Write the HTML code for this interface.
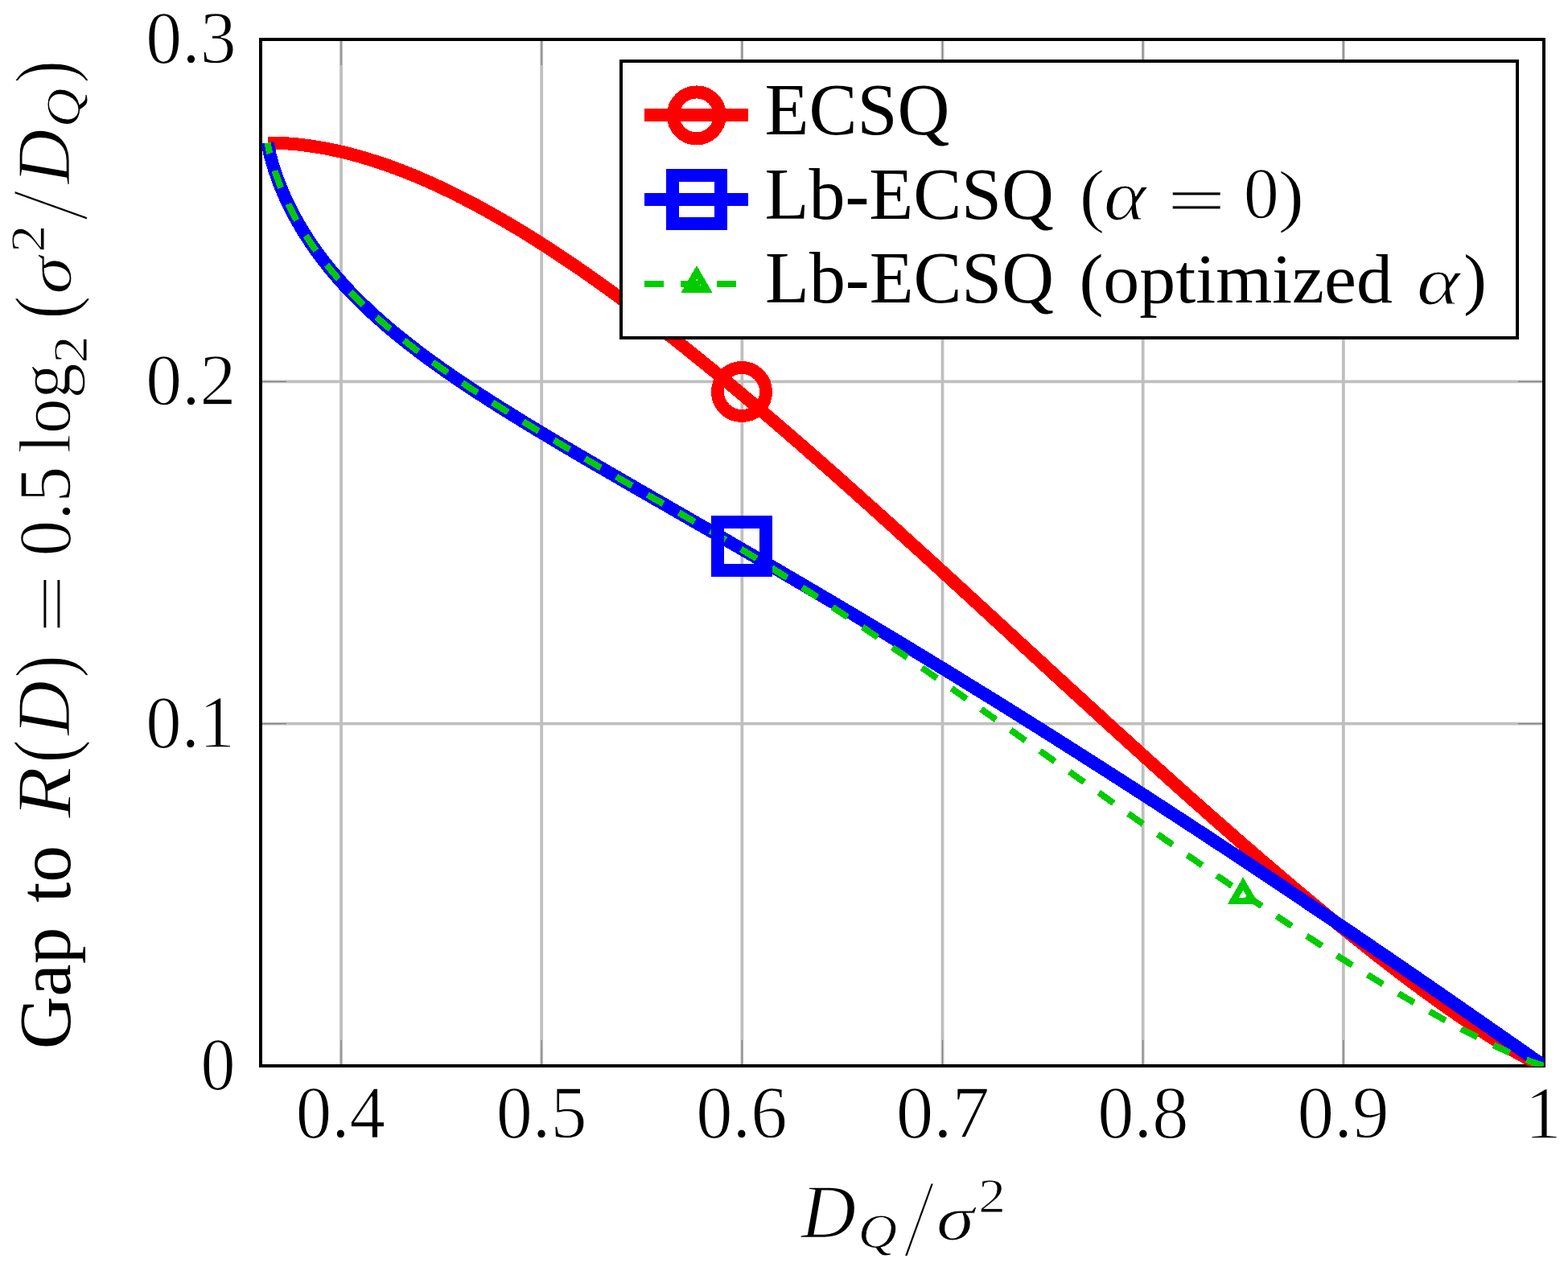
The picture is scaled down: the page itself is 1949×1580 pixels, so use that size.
<!DOCTYPE html>
<html><head><meta charset="utf-8"><style>
html,body{margin:0;padding:0;background:#fff;}
svg{display:block;}
text{font-family:'Liberation Serif', serif;fill:#000;}
.it{font-style:italic;}
.t1{stroke:#fff;stroke-width:1.4px;}
.t2{stroke:#fff;stroke-width:3px;}
</style></head><body>
<svg width="1949" height="1580" viewBox="0 0 1949 1580">
<rect x="0" y="0" width="1949" height="1580" fill="#fff"/>

<path d="M424.00 49V1325 M673.16 49V1325 M922.33 49V1325 M1171.50 49V1325 M1420.67 49V1325 M1669.83 49V1325 M324 899.67H1919 M324 474.33H1919" stroke="#bfbfbf" stroke-width="3.8" fill="none"/>
<path d="M424.00 1325v-32M424.00 49v32 M673.16 1325v-32M673.16 49v32 M922.33 1325v-32M922.33 49v32 M1171.50 1325v-32M1171.50 49v32 M1420.67 1325v-32M1420.67 49v32 M1669.83 1325v-32M1669.83 49v32 M324 899.67h32M1919 899.67h-32 M324 474.33h32M1919 474.33h-32" stroke="#808080" stroke-width="1.2" fill="none"/>
<rect x="324" y="49" width="1595" height="1276" fill="none" stroke="#000" stroke-width="4"/>
<defs><clipPath id="ax"><rect x="324" y="49" width="1595" height="1276.8"/></clipPath></defs><g clip-path="url(#ax)" shape-rendering="crispEdges">
<path d="M332.8 177.6 L333.8 177.6 L335.3 177.6 L336.8 177.6 L338.5 177.6 L340.6 177.6 L341.7 177.7 L343.0 177.7 L344.3 177.7 L345.7 177.8 L347.1 177.9 L348.7 177.9 L350.3 178.0 L352.0 178.1 L353.8 178.2 L355.7 178.3 L357.6 178.4 L359.6 178.6 L361.7 178.7 L363.9 178.9 L366.1 179.1 L368.4 179.3 L370.8 179.6 L373.3 179.8 L375.8 180.1 L378.5 180.5 L381.1 180.8 L383.9 181.2 L386.7 181.6 L389.7 182.0 L392.6 182.5 L395.7 183.0 L398.8 183.5 L402.0 184.1 L405.3 184.7 L408.6 185.3 L412.1 186.0 L415.5 186.8 L419.1 187.5 L422.7 188.3 L426.4 189.2 L430.2 190.1 L434.0 191.1 L437.9 192.1 L441.8 193.2 L445.9 194.3 L449.9 195.4 L454.1 196.7 L458.3 197.9 L462.6 199.3 L467.0 200.7 L471.4 202.1 L475.8 203.6 L480.4 205.2 L485.0 206.8 L489.6 208.5 L494.3 210.3 L499.1 212.1 L503.9 214.0 L508.8 215.9 L513.8 217.9 L518.8 220.0 L523.8 222.2 L529.0 224.4 L534.1 226.7 L539.4 229.0 L544.6 231.5 L550.0 234.0 L555.4 236.5 L560.8 239.2 L566.3 241.9 L571.8 244.7 L577.4 247.5 L583.0 250.4 L588.7 253.4 L594.5 256.5 L600.2 259.6 L606.1 262.9 L611.9 266.1 L617.8 269.5 L623.8 272.9 L629.8 276.4 L635.8 280.0 L641.9 283.6 L648.1 287.3 L654.2 291.1 L660.4 295.0 L666.7 298.9 L673.0 302.9 L679.3 306.9 L685.6 311.1 L692.0 315.3 L698.4 319.5 L704.9 323.9 L711.4 328.3 L717.9 332.7 L724.5 337.2 L731.1 341.8 L737.7 346.5 L744.3 351.2 L751.0 356.0 L757.7 360.8 L764.4 365.7 L771.2 370.6 L778.0 375.7 L784.8 380.7 L791.6 385.8 L798.5 391.0 L805.3 396.2 L812.2 401.5 L819.1 406.9 L826.1 412.3 L834.4 418.8 L842.8 425.4 L851.2 432.0 L859.6 438.8 L868.1 445.6 L876.5 452.4 L885.0 459.3 L893.5 466.3 L902.0 473.3 L910.5 480.4 L919.1 487.5 L927.6 494.7 L936.2 501.9 L944.8 509.2 L953.3 516.5 L961.9 523.8 L970.5 531.2 L979.1 538.6 L987.7 546.1 L996.3 553.5 L1004.9 561.1 L1013.5 568.6 L1022.1 576.1 L1030.7 583.7 L1039.3 591.3 L1047.8 598.9 L1056.4 606.6 L1065.0 614.2 L1073.5 621.9 L1082.1 629.5 L1090.6 637.2 L1099.1 644.9 L1107.6 652.5 L1116.1 660.2 L1124.5 667.9 L1133.0 675.6 L1141.4 683.2 L1149.8 690.9 L1158.2 698.5 L1166.5 706.1 L1174.9 713.8 L1183.2 721.4 L1191.5 729.0 L1199.7 736.5 L1207.9 744.1 L1216.1 751.6 L1224.3 759.1 L1232.4 766.6 L1240.5 774.0 L1248.6 781.4 L1256.6 788.8 L1264.6 796.2 L1272.5 803.5 L1280.5 810.8 L1288.3 818.0 L1296.2 825.2 L1304.0 832.4 L1311.7 839.5 L1319.5 846.6 L1327.1 853.7 L1334.8 860.7 L1342.4 867.6 L1349.9 874.5 L1357.4 881.4 L1364.9 888.2 L1372.3 895.0 L1379.6 901.7 L1386.9 908.3 L1394.2 914.9 L1401.4 921.5 L1408.6 928.0 L1415.7 934.4 L1422.7 940.8 L1429.7 947.1 L1436.7 953.4 L1443.6 959.6 L1450.4 965.7 L1457.2 971.8 L1464.0 977.9 L1470.6 983.8 L1477.3 989.8 L1483.8 995.6 L1490.4 1001.4 L1496.8 1007.1 L1503.2 1012.8 L1509.6 1018.4 L1515.9 1023.9 L1522.1 1029.4 L1528.3 1034.8 L1534.4 1040.2 L1540.4 1045.4 L1546.4 1050.7 L1552.4 1055.8 L1558.3 1060.9 L1564.1 1065.9 L1569.8 1070.9 L1575.6 1075.8 L1581.2 1080.6 L1586.8 1085.4 L1592.3 1090.1 L1597.8 1094.7 L1603.2 1099.3 L1608.5 1103.8 L1613.8 1108.2 L1619.0 1112.6 L1624.2 1116.9 L1629.3 1121.2 L1634.4 1125.4 L1639.3 1129.5 L1644.3 1133.6 L1649.1 1137.6 L1653.9 1141.5 L1658.7 1145.4 L1663.4 1149.2 L1668.0 1153.0 L1672.6 1156.7 L1677.1 1160.3 L1681.6 1163.9 L1686.0 1167.4 L1690.3 1170.9 L1694.6 1174.3 L1698.8 1177.7 L1703.0 1180.9 L1707.1 1184.2 L1711.1 1187.4 L1715.1 1190.5 L1719.1 1193.5 L1722.9 1196.5 L1726.8 1199.5 L1730.5 1202.4 L1734.3 1205.3 L1737.9 1208.1 L1741.5 1210.8 L1745.1 1213.5 L1748.6 1216.1 L1752.0 1218.7 L1755.4 1221.3 L1758.8 1223.8 L1762.1 1226.2 L1765.3 1228.6 L1768.5 1231.0 L1771.6 1233.3 L1774.7 1235.5 L1777.8 1237.7 L1780.7 1239.9 L1783.7 1242.0 L1786.6 1244.1 L1789.4 1246.1 L1792.2 1248.1 L1794.9 1250.1 L1797.6 1252.0 L1800.3 1253.8 L1802.9 1255.7 L1805.5 1257.5 L1808.0 1259.2 L1810.5 1260.9 L1812.9 1262.6 L1815.3 1264.2 L1817.6 1265.8 L1819.9 1267.4 L1822.2 1268.9 L1824.4 1270.4 L1826.6 1271.9 L1828.7 1273.3 L1830.8 1274.7 L1832.8 1276.1 L1834.9 1277.4 L1836.8 1278.7 L1838.8 1280.0 L1840.7 1281.2 L1842.5 1282.5 L1844.4 1283.6 L1846.2 1284.8 L1847.9 1285.9 L1849.6 1287.0 L1851.3 1288.1 L1853.0 1289.1 L1854.6 1290.1 L1856.2 1291.1 L1857.7 1292.1 L1859.3 1293.1 L1860.8 1294.0 L1862.2 1294.9 L1863.6 1295.8 L1865.0 1296.6 L1866.4 1297.4 L1867.7 1298.2 L1869.1 1299.0 L1870.3 1299.8 L1871.6 1300.6 L1872.8 1301.3 L1874.0 1302.0 L1875.2 1302.7 L1876.3 1303.4 L1877.5 1304.0 L1878.6 1304.6 L1879.6 1305.3 L1880.7 1305.9 L1881.7 1306.4 L1882.7 1307.0 L1886.7 1309.3 L1890.3 1311.3 L1893.5 1313.0 L1896.5 1314.6 L1899.1 1315.9 L1901.4 1317.2 L1903.5 1318.2 L1905.4 1319.1 L1907.1 1319.9 L1908.6 1320.6 L1909.9 1321.3 L1911.1 1321.8 L1912.1 1322.3 L1913.8 1323.0 L1915.1 1323.6 L1916.1 1324.0 L1917.2 1324.4 L1918.2 1324.7 L1919.0 1325.0" stroke="#ff0000" stroke-width="16" fill="none" stroke-linejoin="round"/>
<path d="M332.8 177.6 L333.0 179.1 L333.2 180.7 L333.6 182.6 L333.8 183.8 L334.0 185.0 L334.3 186.2 L334.6 187.6 L334.9 189.0 L335.2 190.5 L335.6 192.0 L336.0 193.6 L336.4 195.2 L336.9 196.9 L337.3 198.6 L337.8 200.4 L338.4 202.2 L338.9 204.1 L339.5 206.0 L340.1 207.9 L340.7 209.9 L341.4 211.9 L342.0 213.9 L342.7 215.9 L343.5 218.0 L344.2 220.1 L345.0 222.3 L345.8 224.4 L346.6 226.6 L347.4 228.8 L348.3 231.0 L349.2 233.2 L350.1 235.5 L351.1 237.7 L352.1 240.0 L353.1 242.3 L354.1 244.6 L355.1 246.9 L356.2 249.3 L357.3 251.6 L358.4 254.0 L359.6 256.3 L360.8 258.7 L362.0 261.0 L363.2 263.4 L364.4 265.8 L365.7 268.2 L367.0 270.6 L368.3 273.0 L369.7 275.4 L371.1 277.8 L372.5 280.2 L373.9 282.6 L375.3 285.0 L376.8 287.5 L378.3 289.9 L379.8 292.3 L381.4 294.7 L382.9 297.1 L384.5 299.5 L386.1 302.0 L387.8 304.4 L389.4 306.8 L391.1 309.2 L392.8 311.6 L394.6 314.0 L396.3 316.4 L398.1 318.8 L399.9 321.2 L401.8 323.6 L403.6 326.0 L405.5 328.4 L407.4 330.8 L409.3 333.2 L411.3 335.6 L413.2 338.0 L415.2 340.3 L417.3 342.7 L419.3 345.1 L421.4 347.5 L423.5 349.8 L425.6 352.2 L427.7 354.5 L429.9 356.9 L432.1 359.2 L434.3 361.6 L436.5 363.9 L438.8 366.2 L441.0 368.6 L443.3 370.9 L445.7 373.2 L448.0 375.5 L450.4 377.8 L452.8 380.1 L455.2 382.4 L457.6 384.7 L460.1 387.0 L462.5 389.3 L465.0 391.6 L467.6 393.9 L470.1 396.2 L472.7 398.4 L475.3 400.7 L477.9 403.0 L480.5 405.3 L483.2 407.5 L485.9 409.8 L488.5 412.0 L491.3 414.3 L494.0 416.5 L496.8 418.8 L499.6 421.0 L502.4 423.3 L505.2 425.5 L508.0 427.7 L510.9 430.0 L513.8 432.2 L516.7 434.4 L519.7 436.7 L522.6 438.9 L525.6 441.1 L528.6 443.4 L531.6 445.6 L534.6 447.8 L537.7 450.0 L540.8 452.2 L543.9 454.5 L547.0 456.7 L550.1 458.9 L553.3 461.1 L556.5 463.3 L559.7 465.6 L562.9 467.8 L566.1 470.0 L569.4 472.2 L572.6 474.4 L575.9 476.6 L579.3 478.9 L582.6 481.1 L585.9 483.3 L589.3 485.5 L592.7 487.7 L596.1 490.0 L599.6 492.2 L603.0 494.4 L606.5 496.7 L610.0 498.9 L613.5 501.1 L617.0 503.4 L620.5 505.6 L624.1 507.8 L627.7 510.1 L631.3 512.3 L634.9 514.6 L638.5 516.8 L642.2 519.1 L645.8 521.3 L649.5 523.6 L653.2 525.9 L656.9 528.1 L660.7 530.4 L664.4 532.7 L668.2 535.0 L672.0 537.2 L675.8 539.5 L679.6 541.8 L683.4 544.1 L687.3 546.4 L691.2 548.7 L695.0 551.0 L698.9 553.4 L702.9 555.7 L706.8 558.0 L710.8 560.3 L714.7 562.7 L718.7 565.0 L722.7 567.3 L726.7 569.7 L730.7 572.1 L734.8 574.4 L738.8 576.8 L742.9 579.2 L747.0 581.5 L751.1 583.9 L755.2 586.3 L759.4 588.7 L763.5 591.1 L767.7 593.5 L771.8 595.9 L776.0 598.4 L780.2 600.8 L784.5 603.2 L788.7 605.7 L792.9 608.1 L797.2 610.6 L801.5 613.0 L805.7 615.5 L810.0 618.0 L814.3 620.5 L818.7 622.9 L823.0 625.4 L827.4 627.9 L831.7 630.5 L836.1 633.0 L840.5 635.5 L844.9 638.0 L849.3 640.6 L853.7 643.1 L858.1 645.7 L862.6 648.2 L867.0 650.8 L871.5 653.4 L876.0 655.9 L880.5 658.5 L885.0 661.1 L889.5 663.7 L894.0 666.3 L898.5 669.0 L903.1 671.6 L907.6 674.2 L912.2 676.9 L916.8 679.5 L921.3 682.2 L925.9 684.8 L930.5 687.5 L935.2 690.2 L939.8 692.9 L944.4 695.5 L949.0 698.2 L953.7 700.9 L958.3 703.7 L963.0 706.4 L967.7 709.1 L972.4 711.8 L977.0 714.6 L981.7 717.3 L986.5 720.1 L991.2 722.9 L995.9 725.6 L1000.6 728.4 L1005.3 731.2 L1010.1 734.0 L1014.8 736.8 L1019.6 739.6 L1024.4 742.4 L1029.1 745.2 L1033.9 748.0 L1038.7 750.9 L1043.5 753.7 L1048.3 756.5 L1053.1 759.4 L1057.9 762.2 L1062.7 765.1 L1067.5 768.0 L1072.3 770.9 L1077.1 773.7 L1082.0 776.6 L1086.8 779.5 L1091.6 782.4 L1096.5 785.3 L1101.3 788.2 L1106.2 791.2 L1111.0 794.1 L1115.9 797.0 L1120.7 799.9 L1125.6 802.9 L1130.5 805.8 L1135.3 808.8 L1140.2 811.7 L1145.1 814.7 L1150.0 817.6 L1154.8 820.6 L1159.7 823.6 L1164.6 826.6 L1169.5 829.6 L1174.4 832.5 L1179.3 835.5 L1184.2 838.5 L1189.1 841.5 L1193.9 844.5 L1198.8 847.5 L1203.7 850.6 L1208.6 853.6 L1213.5 856.6 L1218.4 859.6 L1223.3 862.6 L1228.2 865.7 L1233.1 868.7 L1238.0 871.7 L1242.9 874.8 L1247.8 877.8 L1252.7 880.9 L1257.5 883.9 L1262.4 887.0 L1267.3 890.0 L1272.2 893.1 L1277.1 896.1 L1282.0 899.2 L1286.8 902.3 L1291.7 905.3 L1296.6 908.4 L1301.4 911.4 L1306.3 914.5 L1311.2 917.6 L1316.0 920.7 L1320.9 923.7 L1325.7 926.8 L1330.6 929.9 L1335.4 932.9 L1340.2 936.0 L1345.1 939.1 L1349.9 942.2 L1354.7 945.2 L1359.5 948.3 L1364.3 951.4 L1369.2 954.5 L1374.0 957.5 L1378.7 960.6 L1383.5 963.7 L1388.3 966.7 L1393.1 969.8 L1397.8 972.9 L1402.6 975.9 L1407.4 979.0 L1412.1 982.1 L1416.8 985.1 L1421.6 988.2 L1426.3 991.2 L1431.0 994.3 L1435.7 997.3 L1440.4 1000.4 L1445.1 1003.4 L1449.7 1006.5 L1454.4 1009.5 L1459.1 1012.6 L1463.7 1015.6 L1468.3 1018.6 L1473.0 1021.6 L1477.6 1024.7 L1482.2 1027.7 L1486.8 1030.7 L1491.4 1033.7 L1495.9 1036.7 L1500.5 1039.7 L1505.1 1042.7 L1509.6 1045.7 L1514.1 1048.7 L1518.6 1051.6 L1523.1 1054.6 L1527.6 1057.6 L1532.1 1060.5 L1536.6 1063.5 L1541.0 1066.4 L1545.4 1069.4 L1549.9 1072.3 L1554.3 1075.2 L1558.7 1078.2 L1563.0 1081.1 L1567.4 1084.0 L1571.7 1086.9 L1576.1 1089.8 L1580.4 1092.6 L1584.7 1095.5 L1589.0 1098.4 L1593.2 1101.2 L1597.5 1104.1 L1601.7 1106.9 L1606.0 1109.8 L1610.2 1112.6 L1614.3 1115.4 L1618.5 1118.2 L1622.7 1121.0 L1626.8 1123.8 L1630.9 1126.5 L1635.0 1129.3 L1639.1 1132.0 L1643.1 1134.8 L1647.2 1137.5 L1651.2 1140.2 L1655.2 1142.9 L1659.2 1145.6 L1663.1 1148.3 L1667.1 1151.0 L1671.0 1153.6 L1674.9 1156.3 L1678.8 1158.9 L1682.6 1161.5 L1686.5 1164.1 L1690.3 1166.7 L1694.1 1169.3 L1697.8 1171.9 L1701.6 1174.4 L1705.3 1177.0 L1709.0 1179.5 L1712.7 1182.0 L1716.3 1184.5 L1720.0 1187.0 L1723.6 1189.4 L1727.2 1191.9 L1730.7 1194.3 L1734.3 1196.7 L1737.8 1199.2 L1741.3 1201.5 L1744.7 1203.9 L1748.1 1206.3 L1751.6 1208.6 L1754.9 1210.9 L1758.3 1213.2 L1761.6 1215.5 L1764.9 1217.8 L1768.2 1220.1 L1771.4 1222.3 L1774.7 1224.5 L1777.9 1226.7 L1781.0 1228.9 L1784.1 1231.1 L1787.3 1233.2 L1790.3 1235.3 L1793.4 1237.4 L1796.4 1239.5 L1799.4 1241.6 L1802.3 1243.6 L1805.3 1245.7 L1808.2 1247.7 L1811.0 1249.7 L1813.9 1251.6 L1816.7 1253.6 L1819.5 1255.5 L1822.2 1257.4 L1824.9 1259.3 L1827.6 1261.1 L1830.2 1263.0 L1832.8 1264.8 L1835.4 1266.6 L1838.0 1268.3 L1840.5 1270.1 L1843.0 1271.8 L1845.4 1273.5 L1847.8 1275.2 L1850.2 1276.8 L1852.5 1278.5 L1854.8 1280.1 L1857.1 1281.7 L1859.3 1283.2 L1861.5 1284.7 L1863.7 1286.3 L1865.8 1287.7 L1867.9 1289.2 L1869.9 1290.6 L1871.9 1292.0 L1873.9 1293.4 L1875.9 1294.8 L1877.8 1296.1 L1879.6 1297.4 L1881.4 1298.7 L1883.2 1299.9 L1885.0 1301.1 L1886.7 1302.3 L1888.3 1303.5 L1889.9 1304.6 L1891.5 1305.7 L1893.1 1306.8 L1894.6 1307.8 L1896.0 1308.9 L1897.4 1309.9 L1898.8 1310.8 L1900.1 1311.8 L1901.4 1312.7 L1902.7 1313.5 L1903.9 1314.4 L1905.0 1315.2 L1906.1 1316.0 L1907.2 1316.7 L1908.2 1317.4 L1909.2 1318.1 L1910.1 1318.8 L1911.0 1319.4 L1911.9 1320.0 L1913.4 1321.1 L1914.8 1322.1 L1916.0 1322.9 L1917.0 1323.6 L1918.1 1324.4 L1919.0 1325.0 L1919.0 1325.0" stroke="#0000ff" stroke-width="16" fill="none" stroke-linejoin="round"/>
<path d="M332.8 177.6 L333.0 179.1 L333.2 180.7 L333.6 182.6 L333.8 183.8 L334.0 185.0 L334.3 186.2 L334.6 187.6 L334.9 189.0 L335.2 190.5 L335.6 192.0 L336.0 193.6 L336.4 195.2 L336.9 196.9 L337.3 198.6 L337.8 200.4 L338.4 202.2 L338.9 204.1 L339.5 206.0 L340.1 207.9 L340.7 209.9 L341.4 211.9 L342.0 213.9 L342.7 215.9 L343.5 218.0 L344.2 220.1 L345.0 222.3 L345.8 224.4 L346.6 226.6 L347.4 228.8 L348.3 231.0 L349.2 233.2 L350.1 235.5 L351.1 237.7 L352.1 240.0 L353.1 242.3 L354.1 244.6 L355.1 246.9 L356.2 249.3 L357.3 251.6 L358.4 254.0 L359.6 256.3 L360.8 258.7 L362.0 261.0 L363.2 263.4 L364.4 265.8 L365.7 268.2 L367.0 270.6 L368.3 273.0 L369.7 275.4 L371.1 277.8 L372.5 280.2 L373.9 282.6 L375.3 285.0 L376.8 287.5 L378.3 289.9 L379.8 292.3 L381.4 294.7 L382.9 297.1 L384.5 299.5 L386.1 302.0 L387.8 304.4 L389.4 306.8 L391.1 309.2 L392.8 311.6 L394.6 314.0 L396.3 316.4 L398.1 318.8 L399.9 321.2 L401.8 323.6 L403.6 326.0 L405.5 328.4 L407.4 330.8 L409.3 333.2 L411.3 335.6 L413.2 338.0 L415.2 340.3 L417.3 342.7 L419.3 345.1 L421.4 347.5 L423.5 349.8 L425.6 352.2 L427.7 354.5 L429.9 356.9 L432.1 359.2 L434.3 361.6 L436.5 363.9 L438.8 366.2 L441.0 368.6 L443.3 370.9 L445.7 373.2 L448.0 375.5 L450.4 377.8 L452.8 380.1 L455.2 382.4 L457.6 384.7 L460.1 387.0 L462.5 389.3 L465.0 391.6 L467.6 393.9 L470.1 396.2 L472.7 398.4 L475.3 400.7 L477.9 403.0 L480.5 405.3 L483.2 407.5 L485.9 409.8 L488.5 412.0 L491.3 414.3 L494.0 416.5 L496.8 418.8 L499.6 421.0 L502.4 423.3 L505.2 425.5 L508.0 427.7 L510.9 430.0 L513.8 432.2 L516.7 434.4 L519.7 436.7 L522.6 438.9 L525.6 441.1 L528.6 443.4 L531.6 445.6 L534.6 447.8 L537.7 450.0 L540.8 452.2 L543.9 454.5 L547.0 456.7 L550.1 458.9 L553.3 461.1 L556.5 463.3 L559.7 465.6 L562.9 467.8 L566.1 470.0 L569.4 472.2 L572.6 474.4 L575.9 476.6 L579.3 478.9 L582.6 481.1 L585.9 483.3 L589.3 485.5 L592.7 487.7 L596.1 490.0 L599.6 492.2 L603.0 494.4 L606.5 496.7 L610.0 498.9 L613.5 501.1 L617.0 503.4 L620.5 505.6 L624.1 507.8 L627.7 510.1 L631.3 512.3 L634.9 514.6 L638.5 516.8 L642.2 519.1 L645.8 521.3 L649.5 523.6 L653.2 525.9 L656.9 528.1 L660.7 530.4 L664.4 532.7 L668.2 535.0 L672.0 537.2 L675.8 539.5 L679.6 541.8 L683.4 544.1 L687.3 546.4 L691.2 548.7 L695.0 551.0 L698.9 553.4 L702.9 555.7 L706.8 558.0 L710.8 560.3 L714.7 562.7 L718.7 565.0 L722.7 567.3 L726.7 569.7 L730.7 572.1 L734.8 574.4 L738.8 576.8 L742.9 579.2 L747.0 581.5 L751.1 583.9 L755.2 586.3 L759.4 588.7 L763.5 591.1 L767.7 593.5 L771.8 595.9 L776.0 598.4 L780.2 600.8 L784.5 603.2 L788.7 605.7 L792.9 608.1 L797.2 610.6 L801.5 613.0 L805.7 615.5 L810.0 618.0 L814.3 620.5 L818.7 622.9 L823.0 625.4 L827.4 627.9 L831.7 630.5 L836.1 633.0 L840.5 635.5 L844.9 638.0 L849.3 640.6 L853.7 643.1 L858.1 645.7 L862.6 648.2 L867.0 650.8 L871.5 653.4 L872.5 653.9 L876.0 656.0 L879.5 658.0 L883.0 660.0 L886.5 662.0 L890.0 664.1 L893.5 666.2 L897.0 668.2 L900.5 670.3 L904.0 672.4 L907.5 674.4 L911.0 676.5 L914.5 678.6 L918.0 680.7 L921.5 682.9 L925.0 685.0 L928.5 687.1 L932.0 689.2 L935.5 691.4 L939.0 693.5 L942.5 695.7 L946.0 697.9 L949.5 700.0 L953.0 702.2 L956.5 704.4 L960.0 706.6 L963.5 708.8 L967.0 711.0 L970.5 713.2 L974.0 715.4 L977.5 717.6 L981.0 719.8 L984.5 722.1 L988.0 724.3 L991.5 726.5 L995.0 728.8 L998.5 731.0 L1002.0 733.3 L1005.5 735.6 L1009.0 737.8 L1012.5 740.1 L1016.0 742.4 L1019.5 744.7 L1023.0 747.0 L1026.5 749.2 L1030.0 751.5 L1033.5 753.8 L1037.0 756.2 L1040.5 758.5 L1044.0 760.8 L1047.5 763.1 L1051.0 765.4 L1054.5 767.8 L1058.0 770.1 L1061.5 772.4 L1065.0 774.8 L1068.5 777.1 L1072.0 779.5 L1075.5 781.8 L1078.9 784.2 L1082.4 786.6 L1085.9 788.9 L1089.4 791.3 L1092.9 793.7 L1096.4 796.1 L1099.9 798.4 L1103.4 800.8 L1106.9 803.2 L1110.4 805.6 L1113.9 808.0 L1117.4 810.4 L1120.9 812.8 L1124.4 815.2 L1127.9 817.6 L1131.4 820.0 L1134.9 822.4 L1138.4 824.8 L1141.9 827.3 L1145.4 829.7 L1148.9 832.1 L1152.4 834.5 L1155.9 837.0 L1159.4 839.4 L1162.9 841.8 L1166.4 844.3 L1169.9 846.7 L1173.4 849.2 L1176.9 851.6 L1180.4 854.1 L1183.9 856.5 L1187.4 859.0 L1190.9 861.4 L1194.4 863.9 L1197.9 866.3 L1201.4 868.8 L1204.9 871.2 L1208.4 873.7 L1211.9 876.2 L1215.4 878.6 L1218.9 881.1 L1222.4 883.6 L1225.9 886.0 L1229.4 888.5 L1232.9 891.0 L1236.4 893.5 L1239.9 895.9 L1243.4 898.4 L1246.9 900.9 L1250.4 903.4 L1253.9 905.8 L1257.4 908.3 L1260.9 910.8 L1264.4 913.3 L1267.9 915.8 L1271.4 918.3 L1274.9 920.7 L1278.4 923.2 L1281.9 925.7 L1285.4 928.2 L1288.9 930.7 L1292.4 933.2 L1295.9 935.7 L1299.4 938.1 L1302.9 940.6 L1306.4 943.1 L1309.9 945.6 L1313.4 948.1 L1316.9 950.6 L1320.4 953.1 L1323.9 955.6 L1327.4 958.1 L1330.9 960.5 L1334.4 963.0 L1337.9 965.5 L1341.4 968.0 L1344.9 970.5 L1348.4 973.0 L1351.9 975.5 L1355.4 978.0 L1358.9 980.4 L1362.4 982.9 L1365.9 985.4 L1369.4 987.9 L1372.9 990.4 L1376.4 992.9 L1379.9 995.4 L1383.4 997.8 L1386.9 1000.3 L1390.4 1002.8 L1393.9 1005.3 L1397.4 1007.7 L1400.9 1010.2 L1404.4 1012.7 L1407.9 1015.2 L1411.4 1017.6 L1414.9 1020.1 L1418.4 1022.6 L1421.9 1025.1 L1425.4 1027.5 L1428.9 1030.0 L1432.4 1032.5 L1435.9 1034.9 L1439.4 1037.4 L1442.9 1039.8 L1446.4 1042.3 L1449.9 1044.7 L1453.4 1047.2 L1456.9 1049.6 L1460.4 1052.1 L1463.9 1054.5 L1467.4 1057.0 L1470.9 1059.4 L1474.4 1061.9 L1477.9 1064.3 L1481.4 1066.7 L1484.9 1069.2 L1488.4 1071.6 L1491.9 1074.0 L1495.4 1076.5 L1498.9 1078.9 L1502.3 1081.3 L1505.8 1083.7 L1509.3 1086.1 L1512.8 1088.6 L1516.3 1091.0 L1519.8 1093.4 L1523.3 1095.8 L1526.8 1098.2 L1530.3 1100.6 L1533.8 1103.0 L1537.3 1105.4 L1540.8 1107.7 L1544.3 1110.1 L1547.8 1112.5 L1551.3 1114.9 L1554.8 1117.3 L1558.3 1119.6 L1561.8 1122.0 L1565.3 1124.4 L1568.8 1126.7 L1572.3 1129.1 L1575.8 1131.4 L1579.3 1133.8 L1582.8 1136.1 L1586.3 1138.4 L1589.8 1140.8 L1593.3 1143.1 L1596.8 1145.4 L1600.3 1147.8 L1603.8 1150.1 L1607.3 1152.4 L1610.8 1154.7 L1614.3 1157.0 L1617.8 1159.3 L1621.3 1161.6 L1624.8 1163.9 L1628.3 1166.2 L1631.8 1168.4 L1635.3 1170.7 L1638.8 1173.0 L1642.3 1175.3 L1645.8 1177.5 L1649.3 1179.8 L1652.8 1182.0 L1656.3 1184.3 L1659.8 1186.5 L1663.3 1188.7 L1666.8 1191.0 L1670.3 1193.2 L1673.8 1195.4 L1677.3 1197.6 L1680.8 1199.8 L1684.3 1202.0 L1687.8 1204.2 L1691.3 1206.4 L1694.8 1208.5 L1698.3 1210.7 L1701.8 1212.9 L1705.3 1215.0 L1708.8 1217.2 L1712.3 1219.3 L1715.8 1221.4 L1719.3 1223.6 L1722.8 1225.7 L1726.3 1227.8 L1729.8 1229.9 L1733.3 1232.0 L1736.8 1234.1 L1740.3 1236.2 L1743.8 1238.2 L1747.3 1240.3 L1750.8 1242.4 L1754.3 1244.4 L1757.8 1246.4 L1761.3 1248.5 L1764.8 1250.5 L1768.3 1252.5 L1771.8 1254.5 L1775.3 1256.5 L1778.8 1258.5 L1782.3 1260.4 L1785.8 1262.4 L1789.3 1264.3 L1792.8 1266.3 L1796.3 1268.2 L1799.8 1270.1 L1803.3 1272.0 L1806.8 1273.9 L1810.3 1275.8 L1813.8 1277.7 L1817.3 1279.5 L1820.8 1281.4 L1824.3 1283.2 L1827.8 1285.0 L1831.3 1286.8 L1834.8 1288.6 L1838.3 1290.4 L1841.8 1292.2 L1845.3 1293.9 L1848.8 1295.6 L1852.3 1297.4 L1855.8 1299.0 L1859.3 1300.7 L1862.8 1302.4 L1866.3 1304.0 L1869.8 1305.6 L1873.3 1307.2 L1876.8 1308.8 L1880.3 1310.4 L1883.8 1311.9 L1887.3 1313.4 L1890.8 1314.8 L1894.3 1316.3 L1897.8 1317.7 L1901.3 1319.1 L1904.8 1320.4 L1908.3 1321.6 L1911.8 1322.8 L1915.3 1324.0 L1918.8 1324.9 L1919.0 1325.0" stroke="#00cc00" stroke-width="8" fill="none" stroke-dasharray="22.6 22.24" stroke-dashoffset="9.14"/>
</g>
<g shape-rendering="crispEdges">
<circle cx="922" cy="487" r="30" fill="none" stroke="#ff0000" stroke-width="16"/>
<rect x="892" y="649" width="60" height="60" fill="none" stroke="#0000ff" stroke-width="16"/>
<path d="M1545.20 1098.50L1532.90 1119.80L1557.50 1119.80Z" fill="none" stroke="#00cc00" stroke-width="8.2"/>
</g>
<rect x="772" y="76" width="1114" height="344" fill="#fff" stroke="#000" stroke-width="4"/>
<g shape-rendering="crispEdges">
<path d="M801 143H930" stroke="#ff0000" stroke-width="16"/>
<circle cx="865.8" cy="143.4" r="29" fill="none" stroke="#ff0000" stroke-width="16"/>
<path d="M801 248H930" stroke="#0000ff" stroke-width="16"/>
<rect x="836" y="218" width="60" height="60" fill="none" stroke="#0000ff" stroke-width="16"/>
<path d="M801 352.5H930" stroke="#00cc00" stroke-width="8" stroke-dasharray="23.5 21.5"/>
<path d="M866.00 338.20L853.70 359.50L878.30 359.50Z" fill="none" stroke="#00cc00" stroke-width="8.2"/>
</g>
<text class="t1" font-size="100" transform="translate(367.64 1413.78) scale(0.8899 0.9242)">0.4</text>
<text class="t1" font-size="100" transform="translate(616.79 1413.78) scale(0.9017 0.9242)">0.5</text>
<text class="t1" font-size="100" transform="translate(865.28 1413.78) scale(0.9060 0.9242)">0.6</text>
<text class="t1" font-size="100" transform="translate(1113.68 1413.78) scale(0.9308 0.9242)">0.7</text>
<text class="t1" font-size="100" transform="translate(1364.28 1413.78) scale(0.9051 0.9242)">0.8</text>
<text class="t1" font-size="100" transform="translate(1612.55 1413.78) scale(0.9121 0.9242)">0.9</text>
<text class="t1" font-size="100" transform="translate(1895.63 1414.53) scale(0.8971 0.9312)">1</text>
<text class="t1" font-size="100" transform="translate(181.31 77.98) scale(0.8983 0.9242)">0.3</text>
<text class="t1" font-size="100" transform="translate(181.31 502.78) scale(0.8965 0.9182)">0.2</text>
<text class="t1" font-size="100" transform="translate(181.35 928.78) scale(0.8868 0.9227)">0.1</text>
<text class="t1" font-size="100" transform="translate(249.46 1354.07) scale(0.8595 0.9273)">0</text>
<text class="it t1" font-size="100" transform="translate(995.80 1539.40) scale(0.9443 0.9469)">D</text>
<text class="it t1" font-size="100" transform="translate(1066.79 1550.84) scale(0.6687 0.6160)">Q</text>
<text class="t2" font-size="100" transform="translate(1122.05 1561.80) scale(1.4739 1.3875)">/</text>
<text class="it t1" font-size="100" transform="translate(1164.09 1540.80) scale(0.9532 0.7882)">σ</text>
<text class="t1" font-size="100" transform="translate(1216.24 1506.80) scale(0.6718 0.6185)">2</text>
<text font-size="100" transform="translate(950.60 166.80) scale(0.8988 0.9170)">ECSQ</text>
<text font-size="100" transform="translate(950.60 271.90) scale(0.8985 0.9170)">Lb-ECSQ</text>
<text class="t1" font-size="100" transform="translate(1341.41 271.99) scale(0.9583 0.8953)">(</text>
<text class="it t1" font-size="100" transform="translate(1371.88 272.60) scale(1.0041 0.8826)">α</text>
<text class="t1" font-size="100" transform="translate(1450.25 277.76) scale(1.3089 0.8391)">=</text>
<text class="t1" font-size="100" transform="translate(1545.78 271.39) scale(0.8810 0.9136)">0</text>
<text class="t1" font-size="100" transform="translate(1588.47 271.50) scale(0.9833 0.8750)">)</text>
<text font-size="100" transform="translate(951.11 375.80) scale(0.8972 0.9170)">Lb-ECSQ</text>
<text font-size="100" transform="translate(1341.40 376.31) scale(0.8991 0.8756)">(optimized</text>
<text class="it t1" font-size="100" transform="translate(1760.99 377.90) scale(1.0265 0.8457)">α</text>
<text font-size="100" transform="translate(1819.13 374.70) scale(0.8577 0.8522)">)</text>
<text font-size="100" transform="translate(86.73 1304.34) rotate(-90) scale(0.9088 0.9034)">Gap</text>
<text font-size="100" transform="translate(86.87 1122.11) rotate(-90) scale(0.9137 0.9298)">to</text>
<text class="it t1" font-size="100" transform="translate(88.00 1017.20) rotate(-90) scale(1.0492 0.9688)">R</text>
<text class="t1" font-size="100" transform="translate(90.05 948.55) rotate(-90) scale(0.8708 1.0500)">(</text>
<text class="it t1" font-size="100" transform="translate(86.60 914.20) rotate(-90) scale(0.9443 0.9469)">D</text>
<text class="t1" font-size="100" transform="translate(89.48 842.47) rotate(-90) scale(0.8417 1.0261)">)</text>
<text class="t1" font-size="100" transform="translate(92.65 787.79) rotate(-90) scale(1.3156 0.8478)">=</text>
<text class="t1" font-size="100" transform="translate(87.07 691.58) rotate(-90) scale(0.8957 0.9288)">0.5</text>
<text class="t1" font-size="100" transform="translate(86.65 563.74) rotate(-90) scale(0.8787 0.9023)">log</text>
<text class="t1" font-size="100" transform="translate(108.10 451.60) rotate(-90) scale(0.6795 0.6200)">2</text>
<text class="t1" font-size="100" transform="translate(89.66 396.49) rotate(-90) scale(0.8583 1.0442)">(</text>
<text class="it t1" font-size="100" transform="translate(88.00 365.70) rotate(-90) scale(0.9489 0.7784)">σ</text>
<text class="t1" font-size="100" transform="translate(55.20 313.80) rotate(-90) scale(0.6795 0.6200)">2</text>
<text class="t2" font-size="100" transform="translate(109.10 275.51) rotate(-90) scale(1.4565 1.3969)">/</text>
<text class="it t1" font-size="100" transform="translate(86.60 228.70) rotate(-90) scale(0.9443 0.9469)">D</text>
<text class="it t1" font-size="100" transform="translate(99.28 158.24) rotate(-90) scale(0.6734 0.6136)">Q</text>
<text class="t1" font-size="100" transform="translate(89.09 103.27) rotate(-90) scale(0.8417 1.0205)">)</text>
</svg></body></html>
